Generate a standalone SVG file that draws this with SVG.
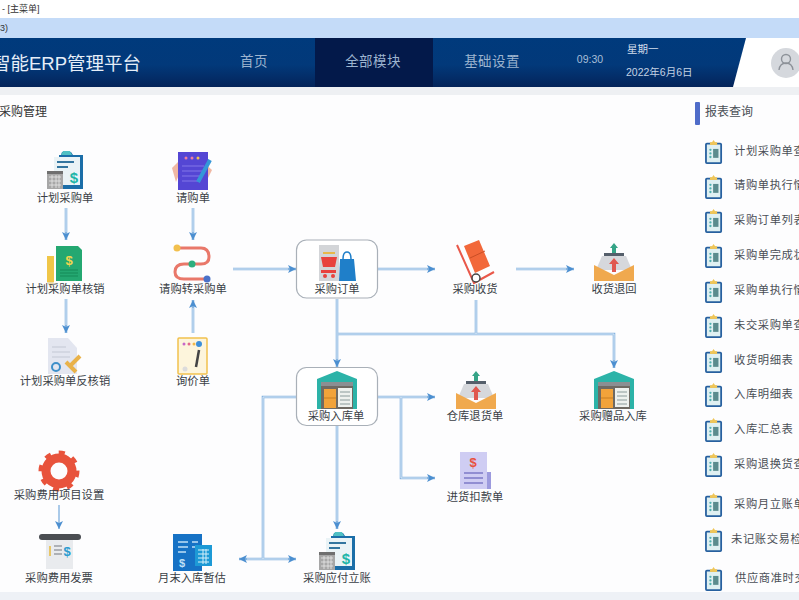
<svg xmlns="http://www.w3.org/2000/svg" xmlns:xlink="http://www.w3.org/1999/xlink" width="799" height="600" viewBox="0 0 799 600">
<style>
text{font-family:"Liberation Sans","Noto Sans CJK SC",sans-serif}
.l{font-size:11.3px;fill:#3a3f46;text-anchor:middle}
.r{font-size:11.3px;fill:#4a4f56;letter-spacing:.6px}
.n{font-size:13.5px;fill:#9db4cf;text-anchor:middle;letter-spacing:.4px}
.c{fill:none;stroke:#86b4e0;stroke-width:2.6}
.h{fill:none;stroke:#dbe9f7;stroke-width:1}
.box{fill:#fff;stroke:#a9b0b8;stroke-width:1.2}
</style>
<defs>
<linearGradient id="hd" x1="0" y1="0" x2="0" y2="1"><stop offset="0" stop-color="#003a7c"/><stop offset=".55" stop-color="#02397a"/><stop offset="1" stop-color="#04245a"/></linearGradient>
<marker id="a" markerUnits="userSpaceOnUse" markerWidth="10" markerHeight="10" refX="8" refY="5" orient="auto-start-reverse"><path d="M0 1 L8 5 L0 9 L2 5Z" fill="#4c8fd0"/></marker>
<symbol id="rep" viewBox="0 0 20 28" overflow="visible">
<rect x="1" y="4" width="17" height="22" rx="1" fill="#dff0f2" stroke="#27609f" stroke-width="2"/>
<path d="M6 5 L9.500 0 L13 5Z" fill="#f0c658"/><rect x="5.500" y="2.500" width="8" height="3" fill="#f0c658"/>
<rect x="9" y="10" width="6" height="10" fill="#5b8c8e"/><circle cx="6" cy="11" r="1.300" fill="#4fb0b0"/><circle cx="6" cy="15" r="1.300" fill="#4fb0b0"/><circle cx="6" cy="19" r="1.300" fill="#4fb0b0"/>
</symbol>
<symbol id="calc" viewBox="0 0 40 40" overflow="visible">
<path d="M15 1 h9 l2 3 h10 v34 h-24 v-34 h2z" fill="#1b6ea8"/><path d="M16 0 h7 l2 4 h-11z" fill="#4fc0c4"/>
<rect x="7" y="6" width="26" height="28" fill="#eaf3f6"/>
<rect x="10" y="10" width="17" height="2" fill="#33759f"/><rect x="10" y="15" width="11" height="2" fill="#33759f"/>
<text x="27" y="32" font-size="15" font-weight="700" fill="#20b5a8" text-anchor="middle">$</text>
<rect x="0" y="20" width="16" height="18" fill="#a7a7a7"/><rect x="0" y="20" width="16" height="3" fill="#6f6f6f"/>
<path d="M2 26h12M2 30h12M2 34h12M5 24v13M9 24v13M12 24v13" stroke="#e8e8e8" stroke-width=".8"/>
</symbol>
<symbol id="ret" viewBox="0 0 40 38" overflow="visible">
<path d="M20 0 l4 5 h-2 v5 h-4 v-5 h-2z" fill="#35a487"/>
<rect x="10" y="10" width="20" height="3" fill="#555f6b"/>
<path d="M8 13 h24 l6 14 h-36z" fill="#d6d8dc"/>
<path d="M0 22 l20 10 l20 -10 v16 h-40z" fill="#f0a94e"/>
<path d="M20 15 l5 6 h-3 v8 h-4 v-8 h-3z" fill="#e0584f"/>
</symbol>
<symbol id="wh" viewBox="0 0 40 38" overflow="visible">
<path d="M0 8 L20 0 L40 8 V38 H36 V11 H4 V38 H0Z" fill="#2cb3a8"/>
<rect x="4" y="11" width="32" height="4" fill="#8b8f92"/><rect x="4" y="15" width="32" height="23" fill="#6f6a63"/>
<rect x="7" y="18" width="12" height="19" fill="#f2a33a"/><path d="M7 27h12" stroke="#c97f20"/>
<rect x="21" y="17" width="14" height="19" fill="#eef1ee"/><path d="M23 21h10M23 25h10M23 29h10M23 33h10" stroke="#8a9a9a"/>
</symbol>
</defs>

<rect width="799" height="600" fill="#fdfdfe"/>
<rect y="0" width="799" height="18" fill="#fff"/>
<text x="2" y="12" font-size="9" fill="#333">- [主菜单]</text>
<rect y="18" width="799" height="20" fill="#c4dbf8"/>
<text x="0" y="31" font-size="9" fill="#333">3)</text>
<rect y="87" width="799" height="8" fill="#eef0f3"/>
<rect y="38" x="733" width="66" height="49" fill="#fff"/>
<g id="header">
<path d="M0 38 H746 L733 87 H0Z" fill="url(#hd)"/>
<rect x="315" y="38" width="118" height="49" fill="#03194a"/>
<text x="-8" y="70" font-size="18.500" fill="#e6eef8">智能ERP管理平台</text>
<text class="n" x="254" y="66">首页</text>
<text class="n" x="373" y="66">全部模块</text>
<text class="n" x="492" y="66">基础设置</text>
<text x="590" y="63" font-size="10.500" fill="#a8bfd8" text-anchor="middle">09:30</text>
<text x="627" y="53" font-size="10.500" fill="#d3deec">星期一</text>
<text x="626" y="76" font-size="10.500" fill="#c3d2e4">2022年6月6日</text>
</g>
<g id="avatar">
<circle cx="786" cy="63" r="15" fill="#d5d8dd"/>
<circle cx="786" cy="59" r="4.500" fill="none" stroke="#8d9299" stroke-width="1.400"/>
<path d="M779 70 q1 -7 7 -7 q6 0 7 7" fill="none" stroke="#8d9299" stroke-width="1.400"/>
</g>
<text x="-1" y="116" font-size="12" fill="#333">采购管理</text>
<rect x="695" y="102" width="5" height="23" rx="1" fill="#4f6cc9"/>
<text x="705" y="116" font-size="12" fill="#4a4f56">报表查询</text>
<rect y="592" width="799" height="8" fill="#eef1f6"/>

<g id="connectors">
<path class="c" d="M66 208V240" marker-end="url(#a)"/>
<path class="c" d="M66 299V333" marker-end="url(#a)"/>
<path class="c" d="M193 208V240" marker-end="url(#a)"/>
<path class="c" d="M193 333V300" marker-end="url(#a)"/>
<path class="c" d="M233 269H296" marker-end="url(#a)"/>
<path class="c" d="M378 269H435" marker-end="url(#a)"/>
<path class="c" d="M516 269H574" marker-end="url(#a)"/>
<path class="c" d="M337 299V367" marker-end="url(#a)"/>
<path class="c" d="M337 334H614V368" marker-end="url(#a)"/>
<path class="c" d="M476 300V334"/>
<path class="c" d="M378 397H435" marker-end="url(#a)"/>
<path class="c" d="M401 397V478H435" marker-end="url(#a)"/>
<path class="c" d="M297 397H263V559"/>
<path class="c" d="M239 559H296" marker-start="url(#a)" marker-end="url(#a)"/>
<path class="c" d="M337 426V529" marker-end="url(#a)"/>
<path class="c" d="M59 505V529" style="stroke-width:1.400" marker-end="url(#a)"/>
<path class="h" d="M66 208V232M66 299V325M193 208V232M193 333V308M233 269H288M378 269H427M516 269H566M337 299V359M338 334H614V360M476 300V334M378 397H427M401 397V478H427M297 397H263V559M247 559H288M337 426V521"/>
</g>

<g id="n-plan"><use href="#calc" x="47" y="151" width="40" height="40"/><text class="l" x="65" y="202">计划采购单</text></g>
<g id="n-planchk">
<rect x="47" y="256" width="7" height="26" fill="#f0c648"/><path d="M47 282 h7 l-3.500 6z" fill="#e8d9a8"/>
<path d="M56 246 H78 L82 250 V281 H56Z" fill="#24a871"/><text x="69" y="265" font-size="13" font-weight="700" fill="#f4d54e" text-anchor="middle">$</text>
<path d="M60 270h18M60 273h18M60 276h18" stroke="#148a58" stroke-width="1"/>
<text class="l" x="65" y="293">计划采购单核销</text></g>
<g id="n-planrev">
<path d="M48 338 H68 L77 348 V374 H48Z" fill="#e3e6f0"/><path d="M52 347h14M52 352h18M52 357h18" stroke="#c3c8d4"/>
<circle cx="56" cy="367" r="4" fill="none" stroke="#3e8fc9" stroke-width="2"/>
<path d="M66 362 L76 372 M70 366 L80 356" stroke="#e9b24a" stroke-width="4"/>
<text class="l" x="65" y="385">计划采购单反核销</text></g>
<g id="n-req">
<path d="M172 168 L180 160 V172 L176 182Z" fill="#f0b8a4"/><path d="M212 170 L203 162 V174 L206 182Z" fill="#f0b8a4"/>
<rect x="178" y="152" width="30" height="38" fill="#5446d4"/><path d="M182 166h22M182 171h22M182 176h20M182 181h18" stroke="#8277e8"/>
<circle cx="186" cy="158" r="1.500" fill="#ee7ea0"/><circle cx="192" cy="158" r="1.500" fill="#ee7ea0"/><circle cx="198" cy="158" r="1.500" fill="#f3c34e"/>
<path d="M198 182 L210 160" stroke="#3596d8" stroke-width="4"/>
<text class="l" x="193" y="202">请购单</text></g>
<g id="n-conv">
<path d="M177 248 H201 Q209 248 209 257 Q209 264 201 264 H184 Q175 264 175 272 Q175 279 184 279 H207" fill="none" stroke="#e9786a" stroke-width="3"/>
<circle cx="177" cy="248" r="3.500" fill="#f2c04e"/><circle cx="192" cy="264" r="3.500" fill="#2fae7e"/><circle cx="207" cy="279" r="3.500" fill="#4a72c9"/>
<text class="l" x="193" y="293">请购转采购单</text></g>
<g id="n-inq">
<rect x="178" y="338" width="29" height="36" rx="1" fill="#fdf5dc" stroke="#f1c14e" stroke-width="1.500"/>
<circle cx="184" cy="344" r="1.500" fill="#c768c9"/><circle cx="189" cy="344" r="1.500" fill="#e36a8a"/><circle cx="194" cy="344" r="1.500" fill="#f2b84a"/><circle cx="199" cy="344" r="3" fill="#3e8fd8"/>
<path d="M199 350 L196 367" stroke="#444" stroke-width="2.500"/><circle cx="185" cy="369" r="2.500" fill="#dcdcdc"/>
<text class="l" x="193" y="385">询价单</text></g>
<g id="n-po">
<rect class="box" x="296.500" y="240" width="81" height="58" rx="10"/>
<rect x="319" y="245" width="20" height="36" fill="#d3d5d8"/>
<path d="M321 257 h16 l-2 10 h-12z" fill="#e8423d"/><path d="M321 270h15v3h-15z" fill="#e8423d"/><circle cx="325" cy="276" r="2" fill="#e8423d"/><circle cx="333" cy="276" r="2" fill="#e8423d"/><path d="M323 253h12" stroke="#e8b84a" stroke-width="2"/>
<path d="M340 259 h14 l2 22 h-17z" fill="#1f7fc9"/><path d="M343 259 q0 -7 4 -7 q4 0 4 7" fill="none" stroke="#1f7fc9" stroke-width="1.500"/>
<text class="l" x="337" y="293">采购订单</text></g>
<g id="n-recv">
<path d="M457 245 L474 283 L494 272" fill="none" stroke="#e9584a" stroke-width="2"/>
<path d="M464 246 L479 240 L490 266 L475 273Z" fill="#f2683a"/><path d="M470 258 L485 251" stroke="#c94e25"/>
<circle cx="476" cy="278" r="4" fill="#fff" stroke="#444" stroke-width="1.500"/>
<text class="l" x="475" y="293">采购收货</text></g>
<g id="n-back"><use href="#ret" x="594" y="243" width="40" height="38"/><text class="l" x="614" y="293">收货退回</text></g>
<g id="n-in">
<rect class="box" x="296.500" y="367.500" width="81" height="58" rx="10"/>
<use href="#wh" x="317" y="371" width="40" height="38"/>
<text class="l" x="336" y="420">采购入库单</text></g>
<g id="n-wret"><use href="#ret" x="456" y="371" width="40" height="38"/><text class="l" x="475" y="420">仓库退货单</text></g>
<g id="n-gift"><use href="#wh" x="594" y="371" width="40" height="38"/><text class="l" x="613" y="420">采购赠品入库</text></g>
<g id="n-ded">
<rect x="460" y="452" width="27" height="37" fill="#cfcdf3"/><rect x="487" y="472" width="4" height="17" fill="#9c9ade"/>
<text x="473" y="467" font-size="13" font-weight="700" fill="#e8523f" text-anchor="middle">$</text>
<path d="M464 473h19M464 478h19M464 483h19" stroke="#7d7ac7" stroke-width="1.500"/>
<text class="l" x="475" y="501">进货扣款单</text></g>
<g id="n-feeset">
<circle cx="59" cy="471" r="13" fill="none" stroke="#e8533c" stroke-width="9"/>
<circle cx="59" cy="471" r="18" fill="none" stroke="#e8533c" stroke-width="5" stroke-dasharray="6 8"/>
<text class="l" x="59" y="499">采购费用项目设置</text></g>
<g id="n-feeinv">
<rect x="39" y="534" width="42" height="6" rx="3" fill="#4a4d52"/>
<rect x="46" y="540" width="27" height="29" fill="#e9ebee"/>
<path d="M50 546v10" stroke="#e8c667" stroke-width="2"/><path d="M54 546h8M54 550h8M54 554h8" stroke="#9a9ea4" stroke-width="1.500"/>
<text x="67" y="556" font-size="13" font-weight="700" fill="#2b9cd0" text-anchor="middle">$</text>
<text class="l" x="59" y="582">采购费用发票</text></g>
<g id="n-est">
<rect x="173" y="534" width="29" height="37" fill="#1672c5"/><path d="M178 542h10M178 547h10M178 552h8M192 542h6M192 547h6" stroke="#bfe0f6" stroke-width="1.300"/>
<text x="182" y="567" font-size="11" font-weight="700" fill="#bfe0f6" text-anchor="middle">$</text>
<rect x="195" y="545" width="17" height="21" fill="#1d9ad6"/><path d="M198 550h11M198 554h11M198 558h11M198 562h11M203 549v15M206 549v15" stroke="#d6f0fa"/>
<text class="l" x="192" y="582">月末入库暂估</text></g>
<g id="n-pay"><use href="#calc" x="319" y="532" width="40" height="40"/><text class="l" x="337" y="582">采购应付立账</text></g>

<g id="reports">
<g id="r1"><use href="#rep" x="705" y="140" width="18" height="25"/><text class="r" x="734" y="155">计划采购单查</text></g>
<g id="r2"><use href="#rep" x="705" y="175" width="18" height="25"/><text class="r" x="734" y="189">请购单执行情</text></g>
<g id="r3"><use href="#rep" x="705" y="209" width="18" height="25"/><text class="r" x="734" y="224">采购订单列表</text></g>
<g id="r4"><use href="#rep" x="705" y="244" width="18" height="25"/><text class="r" x="734" y="259">采购单完成状</text></g>
<g id="r5"><use href="#rep" x="705" y="279" width="18" height="25"/><text class="r" x="734" y="294">采购单执行情</text></g>
<g id="r6"><use href="#rep" x="705" y="314" width="18" height="25"/><text class="r" x="734" y="329">未交采购单查</text></g>
<g id="r7"><use href="#rep" x="705" y="349" width="18" height="25"/><text class="r" x="734" y="364">收货明细表</text></g>
<g id="r8"><use href="#rep" x="705" y="383" width="18" height="25"/><text class="r" x="734" y="398">入库明细表</text></g>
<g id="r9"><use href="#rep" x="705" y="418" width="18" height="25"/><text class="r" x="734" y="433">入库汇总表</text></g>
<g id="r10"><use href="#rep" x="705" y="453" width="18" height="25"/><text class="r" x="734" y="468">采购退换货查</text></g>
<g id="r11"><use href="#rep" x="705" y="493" width="18" height="25"/><text class="r" x="734" y="508">采购月立账单</text></g>
<g id="r12"><use href="#rep" x="705" y="528" width="18" height="25"/><text class="r" x="731" y="543">未记账交易检</text></g>
<g id="r13"><use href="#rep" x="705" y="567" width="18" height="25"/><text class="r" x="735" y="582">供应商准时交</text></g>
</g>
</svg>
